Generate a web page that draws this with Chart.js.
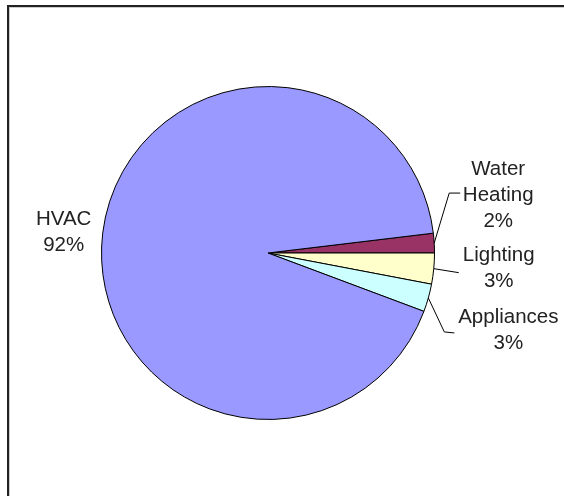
<!DOCTYPE html>
<html>
<head>
<meta charset="utf-8">
<script src="https://cdn.jsdelivr.net/npm/chart.js@4"></script>
<style>
  body { margin: 0; background: #fff; }
  #wrap { position: relative; width: 564px; height: 496px; overflow: hidden; }
  #frame {
    position: absolute; left: 7px; top: 5px; width: 700px; height: 700px;
    border-left: 2px solid #222; border-top: 2px solid #222;
    box-shadow: inset 1px 1px 0 #ccc;
  }
  #mychart { position: absolute; left: 0; top: 0; }
</style>
</head>
<body>
<div id="wrap">
  <div id="frame"></div>
  <canvas id="mychart" width="564" height="496"></canvas>
</div>
<script>
// data (slice order as drawn clockwise from the water heating wedge)
var categories = ["Water Heating", "Lighting", "Appliances", "HVAC"];
var shares = [1.9, 3.0, 2.7, 92.4];
var sliceColors = ["#993366", "#FFFFCC", "#CCFFFF", "#9999FF"];

// label layout: text lines, offsets from the arc edge at mid-angle, leader points
var labelLines = [["Water", "Heating"], ["Lighting"], ["Appliances"], ["HVAC"]];
var labelLayout = [
  { dx: 64, dy: -74, leader: [[15, -50], [26, -50]] },
  { dx: 65, dy: -13, leader: [[25, 4]] },
  { dx: 80, dy: 19, leader: [[16, 34], [26, 35]] },
  { dx: -39, dy: -14, leader: null }
];

var total = shares.reduce(function (a, b) { return a + b; }, 0);
var startDeg = 90 - shares[0] / total * 360;

var pieLabels = {
  id: 'pieLabels',
  afterDatasetsDraw: function (chart) {
    var ctx = chart.ctx;
    var arcs = chart.getDatasetMeta(0).data;
    ctx.save();
    ctx.font = '20.5px "Liberation Sans", Arial, sans-serif';
    ctx.fillStyle = '#222';
    ctx.strokeStyle = '#000';
    ctx.lineWidth = 1;
    ctx.textAlign = 'center';
    ctx.textBaseline = 'middle';
    for (var i = 0; i < arcs.length; i++) {
      var p = arcs[i].getProps(['x', 'y', 'startAngle', 'endAngle', 'outerRadius'], true);
      var mid = (p.startAngle + p.endAngle) / 2;
      var ex = p.x + Math.cos(mid) * p.outerRadius;
      var ey = p.y + Math.sin(mid) * p.outerRadius;
      var lay = labelLayout[i];
      if (lay.leader) {
        ctx.beginPath();
        ctx.moveTo(ex, ey);
        lay.leader.forEach(function (pt) { ctx.lineTo(ex + pt[0], ey + pt[1]); });
        ctx.stroke();
      }
      var lines = labelLines[i].concat([Math.round(shares[i] / total * 100) + '%']);
      for (var j = 0; j < lines.length; j++) {
        ctx.fillText(lines[j], ex + lay.dx, ey + lay.dy + j * 26);
      }
    }
    ctx.restore();
  }
};

var ctx = document.getElementById("mychart");
var data = {
  labels: categories,
  datasets: [{
    data: shares,
    backgroundColor: sliceColors,
    borderColor: "#000",
    borderWidth: 1
  }]
};

var myPieChart = new Chart(ctx, {
  type: 'pie',
  data: data,
  plugins: [pieLabels],
  options: {
    responsive: false,
    animation: false,
    rotation: startDeg,
    layout: { padding: { left: 101, right: 129, top: 86, bottom: 76 } },
    plugins: { legend: { display: false }, tooltip: { enabled: false } }
  }
});
</script>
</body>
</html>
